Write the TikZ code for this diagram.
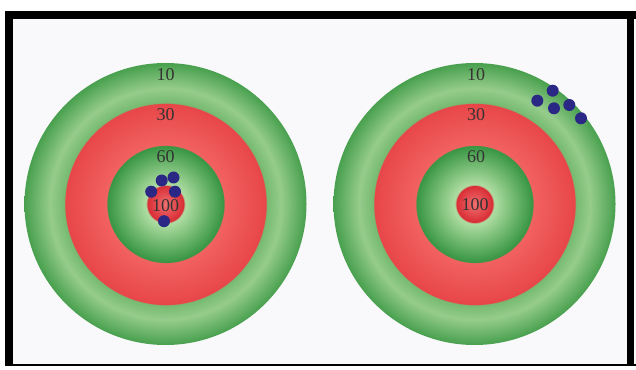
\documentclass[tikz,border=0pt]{standalone}
\usepackage{fontspec}
\setmainfont{Liberation Serif}

%% --- ring colours ---
\definecolor{outerGreenOut}{RGB}{72,160,78}
\definecolor{outerGreenMid}{RGB}{150,204,140}
\definecolor{outerGreenIn}{RGB}{118,186,112}
\definecolor{redRingOut}{RGB}{232,70,72}
\definecolor{redRingIn}{RGB}{241,98,96}
\definecolor{innerGreenOut}{RGB}{56,150,66}
\definecolor{innerGreenIn}{RGB}{176,222,164}
\definecolor{bullOut}{RGB}{216,44,52}
\definecolor{bullIn}{RGB}{240,112,112}
\definecolor{shotBlue}{RGB}{42,40,132}
\definecolor{labelGrey}{RGB}{52,50,50}
\definecolor{paper}{RGB}{249,249,251}

%% --- one shading for the whole target (25bp = rim) ---
\pgfdeclareradialshading{targetrings}{\pgfpoint{0bp}{0bp}}{%
  color(0bp)=(bullIn); color(3.3bp)=(bullOut);
  color(3.4bp)=(innerGreenIn); color(10.3bp)=(innerGreenOut);
  color(10.4bp)=(redRingIn); color(17.85bp)=(redRingOut);
  color(17.95bp)=(outerGreenIn); color(20.5bp)=(outerGreenMid);
  color(25bp)=(outerGreenOut); color(50bp)=(outerGreenOut)}

\begin{document}
\begin{tikzpicture}[x=1pt, y=1pt,
  target/.style={shading=targetrings},
  ringlabel/.style={font=\fontsize{18}{18}\selectfont, text=labelGrey, inner sep=0pt},
  shot/.style={fill=shotBlue},
  frame/.style={fill=black}
]

\useasboundingbox (0,0) rectangle (636,369);

%% --- page and frame ---
\fill[white] (0,0) rectangle (636,369);
\fill[paper] (5,3) rectangle (636,358);
\fill[frame] (5,350) rectangle (636,358);
\fill[frame] (5,3) rectangle (13,358);
\fill[frame] (5,3) rectangle (636,5);
\fill[frame] (627,3) rectangle (634,358);

%% --- target centres ---
\coordinate (leftc)  at (165.5,165);
\coordinate (rightc) at (474.5,165);

%% --- the two targets ---
\shade[target] (leftc)  circle (141pt);
\shade[target] (rightc) circle (141pt);

%% --- score labels, left target ---
\node[ringlabel] (l10)  at (165.5,294) {10};
\node[ringlabel] (l30)  at (165.5,254) {30};
\node[ringlabel] (l60)  at (165.5,212) {60};
\node[ringlabel] (l100) at (165.5,163) {100};

%% --- score labels, right target ---
\node[ringlabel] (r10)  at (476,294) {10};
\node[ringlabel] (r30)  at (476,254) {30};
\node[ringlabel] (r60)  at (476,212) {60};
\node[ringlabel] (r100) at (475,164) {100};

%% --- shots, left target (tight on the bull) ---
\foreach \px/\py in {161.7/188.5, 173.5/191.5, 151.2/177.3, 175/177.3, 164/147.8}
  \fill[shot] (\px,\py) circle (6pt);

%% --- shots, right target (tight but off the centre) ---
\foreach \px/\py in {552.7/278.3, 537.3/268.3, 554/260.7, 569.3/264, 581/250.7}
  \fill[shot] (\px,\py) circle (6pt);

\end{tikzpicture}
\end{document}
